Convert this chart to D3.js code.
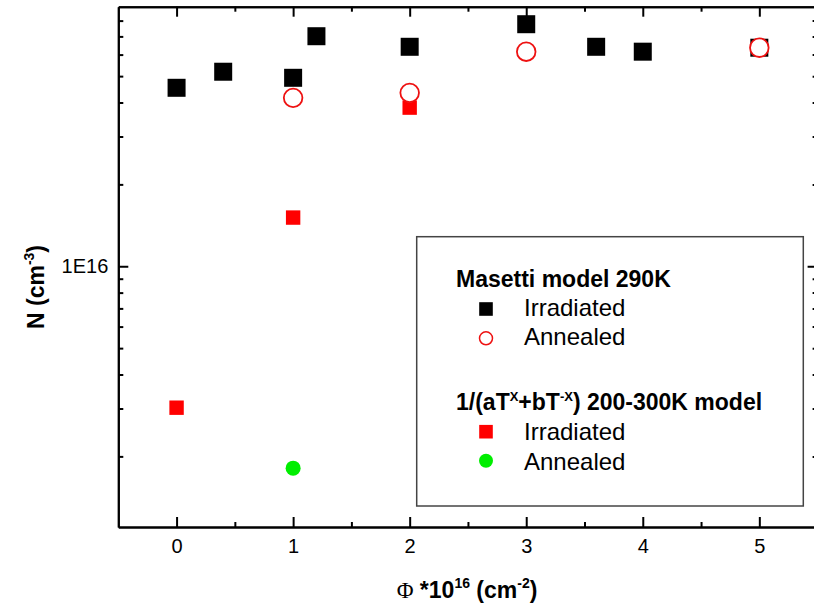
<!DOCTYPE html>
<html>
<head>
<meta charset="utf-8">
<script src="https://cdn.jsdelivr.net/npm/d3@7"></script>
<style>
  body { margin: 0; background: #fff; }
  text { font-family: "Liberation Sans", Arial, sans-serif; }
</style>
</head>
<body>
<div id="chart"></div>
<script>
// fluence (x 1e16 cm^-2) and concentrations (cm^-3)
var masIrrX = [0, 0.4, 1, 1.2, 2, 3, 3.6, 4, 5];
var masIrrY = [4.53e16, 5.19e16, 4.93e16, 7.01e16, 6.41e16, 7.76e16, 6.41e16, 6.15e16, 6.36e16];
var masAnnX = [1, 2, 3, 5];
var masAnnY = [4.16e16, 4.34e16, 6.15e16, 6.36e16];
var fitIrrX = [0, 1, 2];
var fitIrrY = [3.02e15, 1.51e16, 3.83e16];
var fitAnnX = [1];
var fitAnnY = [1.81e15];

var xTicks = [0, 1, 2, 3, 4, 5];
var xMinor = [0.5, 1.5, 2.5, 3.5, 4.5];
var yMajor = [1e16];
var yMinor = [2e15, 3e15, 4e15, 5e15, 6e15, 7e15, 8e15, 9e15, 2e16, 3e16, 4e16, 5e16, 6e16, 7e16, 8e16];

var W = 814, H = 603;
var plotL = 118.3, plotR = 817.6, plotT = 6.7, plotB = 527;

var svg = d3.select("#chart").append("svg")
  .attr("width", W).attr("height", H);

var x = d3.scaleLinear().domain([-0.5, 5.5]).range([plotL, plotR]);
var y = d3.scaleLog().domain([1.1e15, 9e16]).range([plotB, plotT]);

function styleAxis(g) {
  g.attr("font-size", null).attr("font-family", null);
  g.selectAll("path.domain").attr("stroke", "#000").attr("stroke-width", 2);
  g.selectAll(".tick line").attr("stroke", "#000").attr("stroke-width", 2);
  g.selectAll(".tick text").attr("fill", "#000")
    .style("font-family", "'Liberation Sans', Arial, sans-serif").style("font-size", "20px");
}

// bottom axis
svg.append("g").attr("transform", "translate(0," + plotB + ")")
  .call(d3.axisBottom(x).tickValues(xTicks).tickSize(-10).tickSizeOuter(0).tickPadding(12).tickFormat(d3.format("d")))
  .call(styleAxis);
svg.append("g").attr("transform", "translate(0," + plotB + ")")
  .call(d3.axisBottom(x).tickValues(xMinor).tickSize(-5).tickSizeOuter(0).tickFormat(""))
  .call(styleAxis);
// top axis
svg.append("g").attr("transform", "translate(0," + plotT + ")")
  .call(d3.axisTop(x).tickValues(xTicks).tickSize(-10).tickSizeOuter(0).tickFormat(""))
  .call(styleAxis);
svg.append("g").attr("transform", "translate(0," + plotT + ")")
  .call(d3.axisTop(x).tickValues(xMinor).tickSize(-5).tickSizeOuter(0).tickFormat(""))
  .call(styleAxis);
// left axis
svg.append("g").attr("transform", "translate(" + plotL + ",0)")
  .call(d3.axisLeft(y).tickValues(yMajor).tickSize(-10).tickSizeOuter(0).tickPadding(10).tickFormat(function() { return "1E16"; }))
  .call(styleAxis);
svg.append("g").attr("transform", "translate(" + plotL + ",0)")
  .call(d3.axisLeft(y).tickValues(yMinor).tickSize(-5).tickSizeOuter(0).tickFormat(""))
  .call(styleAxis);
// right axis
svg.append("g").attr("transform", "translate(" + plotR + ",0)")
  .call(d3.axisRight(y).tickValues(yMajor).tickSize(-10).tickSizeOuter(0).tickFormat(""))
  .call(styleAxis);
svg.append("g").attr("transform", "translate(" + plotR + ",0)")
  .call(d3.axisRight(y).tickValues(yMinor).tickSize(-5).tickSizeOuter(0).tickFormat(""))
  .call(styleAxis);

function zip(a, b) { return a.map(function(v, i) { return [v, b[i]]; }); }

// Masetti irradiated: black squares
svg.append("g").selectAll("rect").data(zip(masIrrX, masIrrY)).join("rect")
  .attr("x", function(d) { return x(d[0]) - 9; })
  .attr("y", function(d) { return y(d[1]) - 9; })
  .attr("width", 18).attr("height", 18)
  .attr("fill", "#000");

// fit irradiated: red squares
svg.append("g").selectAll("rect").data(zip(fitIrrX, fitIrrY)).join("rect")
  .attr("x", function(d) { return x(d[0]) - 7.2; })
  .attr("y", function(d) { return y(d[1]) - 7.2; })
  .attr("width", 14.4).attr("height", 14.4)
  .attr("fill", "#ff0000");

// Masetti annealed: open red circles
svg.append("g").selectAll("circle").data(zip(masAnnX, masAnnY)).join("circle")
  .attr("cx", function(d) { return x(d[0]); })
  .attr("cy", function(d) { return y(d[1]); })
  .attr("r", 9.3)
  .attr("fill", "#fff")
  .attr("stroke", "#ee1111").attr("stroke-width", 1.8);

// fit annealed: green dot
svg.append("g").selectAll("circle").data(zip(fitAnnX, fitAnnY)).join("circle")
  .attr("cx", function(d) { return x(d[0]); })
  .attr("cy", function(d) { return y(d[1]); })
  .attr("r", 7.5)
  .attr("fill", "#00ee00");

// legend
var lg = svg.append("g");
lg.append("rect").attr("x", 416.7).attr("y", 236.7).attr("width", 386.6).attr("height", 269.3)
  .attr("fill", "#fff").attr("stroke", "#444").attr("stroke-width", 1.5);

lg.append("text").attr("x", 456).attr("y", 286.7)
  .style("font-size", "23px").style("font-weight", "bold").text("Masetti model 290K");
var h2 = lg.append("text").attr("x", 456).attr("y", 410)
  .style("font-size", "23px").style("font-weight", "bold");
h2.append("tspan").text("1/(aT");
h2.append("tspan").attr("dy", -9).style("font-size", "13px").text("X");
h2.append("tspan").attr("dy", 9).text("+bT");
h2.append("tspan").attr("dy", -9).style("font-size", "13px").text("-X");
h2.append("tspan").attr("dy", 9).text(") 200-300K model");

var items = [
  { y: 309, label: "Irradiated", base: 316 },
  { y: 338.3, label: "Annealed", base: 345 },
  { y: 431.7, label: "Irradiated", base: 440 },
  { y: 460.7, label: "Annealed", base: 470 }
];
lg.append("rect").attr("x", 486 - 6.8).attr("y", items[0].y - 6.8).attr("width", 13.6).attr("height", 13.6).attr("fill", "#000");
lg.append("circle").attr("cx", 486).attr("cy", items[1].y).attr("r", 6.5).attr("fill", "#fff").attr("stroke", "#ee1111").attr("stroke-width", 1.5);
lg.append("rect").attr("x", 486 - 6.8).attr("y", items[2].y - 6.8).attr("width", 13.6).attr("height", 13.6).attr("fill", "#ff0000");
lg.append("circle").attr("cx", 486).attr("cy", items[3].y).attr("r", 7).attr("fill", "#00ee00");
lg.selectAll("text.item").data(items).join("text").attr("class", "item")
  .attr("x", 524).attr("y", function(d) { return d.base; })
  .style("font-size", "24px").text(function(d) { return d.label; });

// axis titles
var xt = svg.append("text").attr("x", 467).attr("y", 598).attr("text-anchor", "middle")
  .style("font-size", "23px").style("font-weight", "bold");
xt.append("tspan").style("font-family", "'Liberation Serif', 'Times New Roman', serif").style("font-weight", "normal").text("\u03A6");
xt.append("tspan").text(" *10");
xt.append("tspan").attr("dy", -10).style("font-size", "14px").text("16");
xt.append("tspan").attr("dy", 10).text(" (cm");
xt.append("tspan").attr("dy", -10).style("font-size", "14px").text("-2");
xt.append("tspan").attr("dy", 10).text(")");

var yt = svg.append("text").attr("transform", "translate(44,287) rotate(-90)").attr("text-anchor", "middle")
  .style("font-size", "23px").style("font-weight", "bold");
yt.append("tspan").text("N (cm");
yt.append("tspan").attr("dy", -10).style("font-size", "14px").text("-3");
yt.append("tspan").attr("dy", 10).text(")");
</script>
</body>
</html>
